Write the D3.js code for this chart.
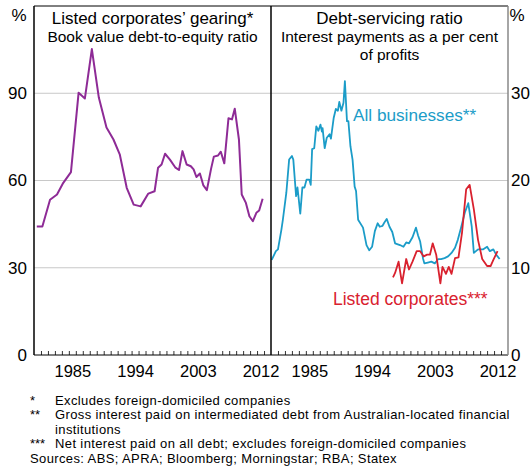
<!DOCTYPE html>
<html><head><meta charset="utf-8">
<script src="https://cdn.jsdelivr.net/npm/d3@7"></script>
<style>body{margin:0;background:#fff;}text{font-family:"Liberation Sans",Arial,sans-serif;}</style>
</head><body>
<svg id="c" width="532" height="471"></svg>
<script>
// Listed corporates' gearing (book value debt-to-equity, %)
const gearingYears = [1980.4,1981.2,1982.3,1983.3,1984.2,1985.3,1986.4,1987.3,1988.3,1989.3,1990.4,1991.4,1992.3,1993.3,1994.3,1995.3,1996.4,1997.3,1997.8,1998.3,1998.8,1999.5,2000.3,2000.8,2001.3,2001.9,2002.5,2002.9,2003.3,2003.8,2004.3,2004.8,2005.4,2005.8,2006.4,2006.8,2007.3,2007.9,2008.4,2008.8,2009.4,2009.8,2010.4,2010.9,2011.4,2011.9,2012.3,2012.8];
const gearingValues = [44.2,44.2,53.4,55.2,59.2,62.9,90.2,88.2,105.2,88.5,78.2,74.1,69.0,57.5,51.7,51.1,55.5,56.3,64.4,65.5,69.2,67.2,64.4,63.6,70.1,65.5,64.9,63.8,61.2,62.4,58.3,56.7,64.0,68.2,68.6,69.9,65.9,81.4,81.0,84.7,74.1,55.2,52.3,47.7,46.0,48.9,49.7,53.7];

// Debt-servicing ratio: all businesses (%)
const allBizYears = [1980.1,1980.7,1981.0,1981.5,1981.7,1982.2,1982.6,1983.0,1983.2,1983.6,1983.8,1984.2,1984.5,1984.8,1985.1,1985.5,1985.7,1985.9,1986.2,1986.5,1986.8,1987.1,1987.3,1987.4,1987.7,1988.0,1988.4,1988.6,1989.0,1989.3,1989.6,1989.8,1990.1,1990.4,1990.6,1990.9,1991.1,1991.4,1991.7,1992.0,1992.2,1992.5,1993.2,1993.7,1994.1,1994.5,1994.9,1995.3,1995.6,1996.0,1996.2,1996.6,1997.0,1997.4,1997.8,1998.5,1999.0,1999.4,1999.8,2000.3,2000.8,2001.1,2001.4,2001.8,2002.0,2002.5,2003.0,2003.5,2004.0,2004.4,2004.9,2005.4,2005.9,2006.4,2006.8,2007.3,2007.8,2008.3,2008.8,2009.1,2009.7,2010.4,2011.0,2011.4,2011.9,2012.3,2012.8];
const allBizValues = [10.9,11.9,12.1,14.4,15.5,18.6,22.4,22.8,22.4,18.2,19.2,16.2,19.2,19.2,20.1,20.1,19.5,23.6,23.7,26.2,25.7,26.4,25.6,26.0,23.7,24.9,25.3,24.8,27.2,28.2,28.0,29.0,28.0,28.9,31.4,26.8,26.8,23.9,22.4,19.3,18.8,15.5,14.6,12.6,12.0,12.4,14.2,15.1,14.7,14.8,15.1,15.6,14.7,14.1,12.8,12.6,12.4,12.9,12.8,13.5,14.6,13.7,13.0,11.1,10.5,10.6,10.7,10.5,11.0,11.0,11.1,11.3,11.7,12.3,13.2,14.7,16.3,17.4,14.7,11.7,12.1,12.1,12.4,11.9,12.1,11.5,11.0];

// Debt-servicing ratio: listed corporates (%)
const listedYears = [1997.5,1997.8,1998.3,1998.8,1999.4,1999.8,2000.3,2000.9,2001.4,2001.9,2002.4,2002.8,2003.2,2003.7,2004.3,2004.6,2005.1,2005.5,2005.9,2006.4,2006.9,2007.4,2008.0,2008.5,2009.1,2009.7,2010.3,2011.0,2011.5,2011.9,2012.5];
const listedValues = [8.9,9.4,10.7,8.2,11.0,9.8,10.7,11.9,11.9,11.3,11.5,11.5,12.8,11.5,8.2,10.1,9.3,10.1,9.3,11.1,11.2,14.0,19.0,19.5,16.7,13.2,11.0,10.2,10.2,10.9,11.9];

const leftTicks = [0,30,60,90];
const rightTicks = [0,10,20,30];
const yearLabels = [1985,1994,2003,2012];
const minorYears = d3.range(1981,2014);
const footnotes = [
  ["*","Excludes foreign-domiciled companies"],
  ["**","Gross interest paid on intermediated debt from Australian-located financial"],
  ["","institutions"],
  ["***","Net interest paid on all debt; excludes foreign-domiciled companies"]
];
const sourcesText = "Sources: ABS; APRA; Bloomberg; Morningstar; RBA; Statex";

const svg = d3.select("#c");
const L = 34, M = 271, R = 508, T = 6, B = 355;
const xL = d3.scaleLinear().domain([1980,2014]).range([L,M]);
const xR = d3.scaleLinear().domain([1980,2014]).range([M,R]);
const yL = d3.scaleLinear().domain([0,120]).range([B,T]);
const yR = d3.scaleLinear().domain([0,40]).range([B,T]);

// gridlines
svg.append("g").selectAll("line").data(leftTicks.filter(d=>d>0)).join("line")
  .attr("x1",L).attr("x2",R).attr("y1",d=>yL(d)).attr("y2",d=>yL(d))
  .attr("stroke","#c8c8c8").attr("stroke-width",1);

// lines
const lineL = d3.line().x((d,i)=>xL(gearingYears[i])).y(d=>yL(d));
svg.append("path").attr("d",lineL(gearingValues)).attr("fill","none")
  .attr("stroke","#8E2B96").attr("stroke-width",2).attr("stroke-linejoin","round");
const lineA = d3.line().x((d,i)=>xR(allBizYears[i])).y(d=>yR(d));
svg.append("path").attr("d",lineA(allBizValues)).attr("fill","none")
  .attr("stroke","#1B9CC8").attr("stroke-width",1.8).attr("stroke-linejoin","round");
const lineC = d3.line().x((d,i)=>xR(listedYears[i])).y(d=>yR(d));
svg.append("path").attr("d",lineC(listedValues)).attr("fill","none")
  .attr("stroke","#D9212E").attr("stroke-width",1.8).attr("stroke-linejoin","round");

// minor ticks
[xL,xR].forEach(x=>{
  const g = svg.append("g").attr("transform",`translate(0,${B})`)
    .call(d3.axisBottom(x).tickValues(minorYears).tickSize(-4).tickFormat(""));
  g.select(".domain").remove();
  g.selectAll("line").attr("stroke","#333").attr("stroke-width",1);
});

// frame
svg.append("line").attr("x1",L).attr("x2",R).attr("y1",T).attr("y2",T).attr("stroke","#000");
svg.append("line").attr("x1",L).attr("x2",R).attr("y1",B).attr("y2",B).attr("stroke","#000");
svg.append("line").attr("x1",L).attr("x2",L).attr("y1",T).attr("y2",B).attr("stroke","#000").attr("stroke-width",1.5);
svg.append("line").attr("x1",M).attr("x2",M).attr("y1",T).attr("y2",B).attr("stroke","#000").attr("stroke-width",1.5);
svg.append("line").attr("x1",R).attr("x2",R).attr("y1",T).attr("y2",B).attr("stroke","#888").attr("stroke-width",1.5);

// y axes labels
const ga = svg.append("g").attr("transform",`translate(${L-7},0)`)
  .call(d3.axisLeft(yL).tickValues(leftTicks).tickSize(0).tickPadding(0));
const gb = svg.append("g").attr("transform",`translate(${R+3},0)`)
  .call(d3.axisRight(yR).tickValues(rightTicks).tickSize(0).tickPadding(0));
[ga,gb].forEach(g=>{g.select(".domain").remove();
  g.selectAll("text").attr("font-size",17).attr("fill","#000").attr("font-family","Liberation Sans, Arial, sans-serif");});

// x labels
[xL,xR].forEach(x=>{
  const g = svg.append("g").attr("transform",`translate(0,${B+10})`)
    .call(d3.axisBottom(x).tickValues(yearLabels.map(d=>d+0.5)).tickSize(0).tickPadding(0).tickFormat(d=>Math.floor(d)));
  g.select(".domain").remove();
  g.selectAll("text").attr("font-size",16.5).attr("fill","#000").attr("font-family","Liberation Sans, Arial, sans-serif");
});

// % units
svg.append("text").attr("x",19).attr("y",21).attr("text-anchor","middle").attr("font-size",17).text("%");
svg.append("text").attr("x",517).attr("y",21).attr("text-anchor","middle").attr("font-size",17).text("%");

// titles
const cl = (L+M)/2, cr = (M+R)/2;
svg.append("text").attr("x",cl).attr("y",24).attr("text-anchor","middle").attr("font-size",17).text("Listed corporates’ gearing*");
svg.append("text").attr("x",cl).attr("y",42).attr("text-anchor","middle").attr("font-size",15.5).text("Book value debt-to-equity ratio");
svg.append("text").attr("x",cr).attr("y",24).attr("text-anchor","middle").attr("font-size",17).text("Debt-servicing ratio");
svg.append("text").attr("x",cr).attr("y",42).attr("text-anchor","middle").attr("font-size",15.5).text("Interest payments as a per cent");
svg.append("text").attr("x",cr).attr("y",60).attr("text-anchor","middle").attr("font-size",15.5).text("of profits");

// series labels
svg.append("text").attr("x",353).attr("y",121).attr("font-size",17.2).attr("fill","#1B9CC8").text("All businesses**");
svg.append("text").attr("x",333).attr("y",305).attr("font-size",17.5).attr("fill","#D9212E").text("Listed corporates***");

// footnotes
const fy = [404.5,419,433.5,448];
footnotes.forEach((f,i)=>{
  svg.append("text").attr("x",30).attr("y",fy[i]).attr("font-size",13).text(f[0]);
  svg.append("text").attr("x",55).attr("y",fy[i]).attr("font-size",13).attr("letter-spacing",0.38).text(f[1]);
});
svg.append("text").attr("x",30).attr("y",462.5).attr("font-size",13).attr("letter-spacing",0.38).text(sourcesText);
</script>
</body></html>
